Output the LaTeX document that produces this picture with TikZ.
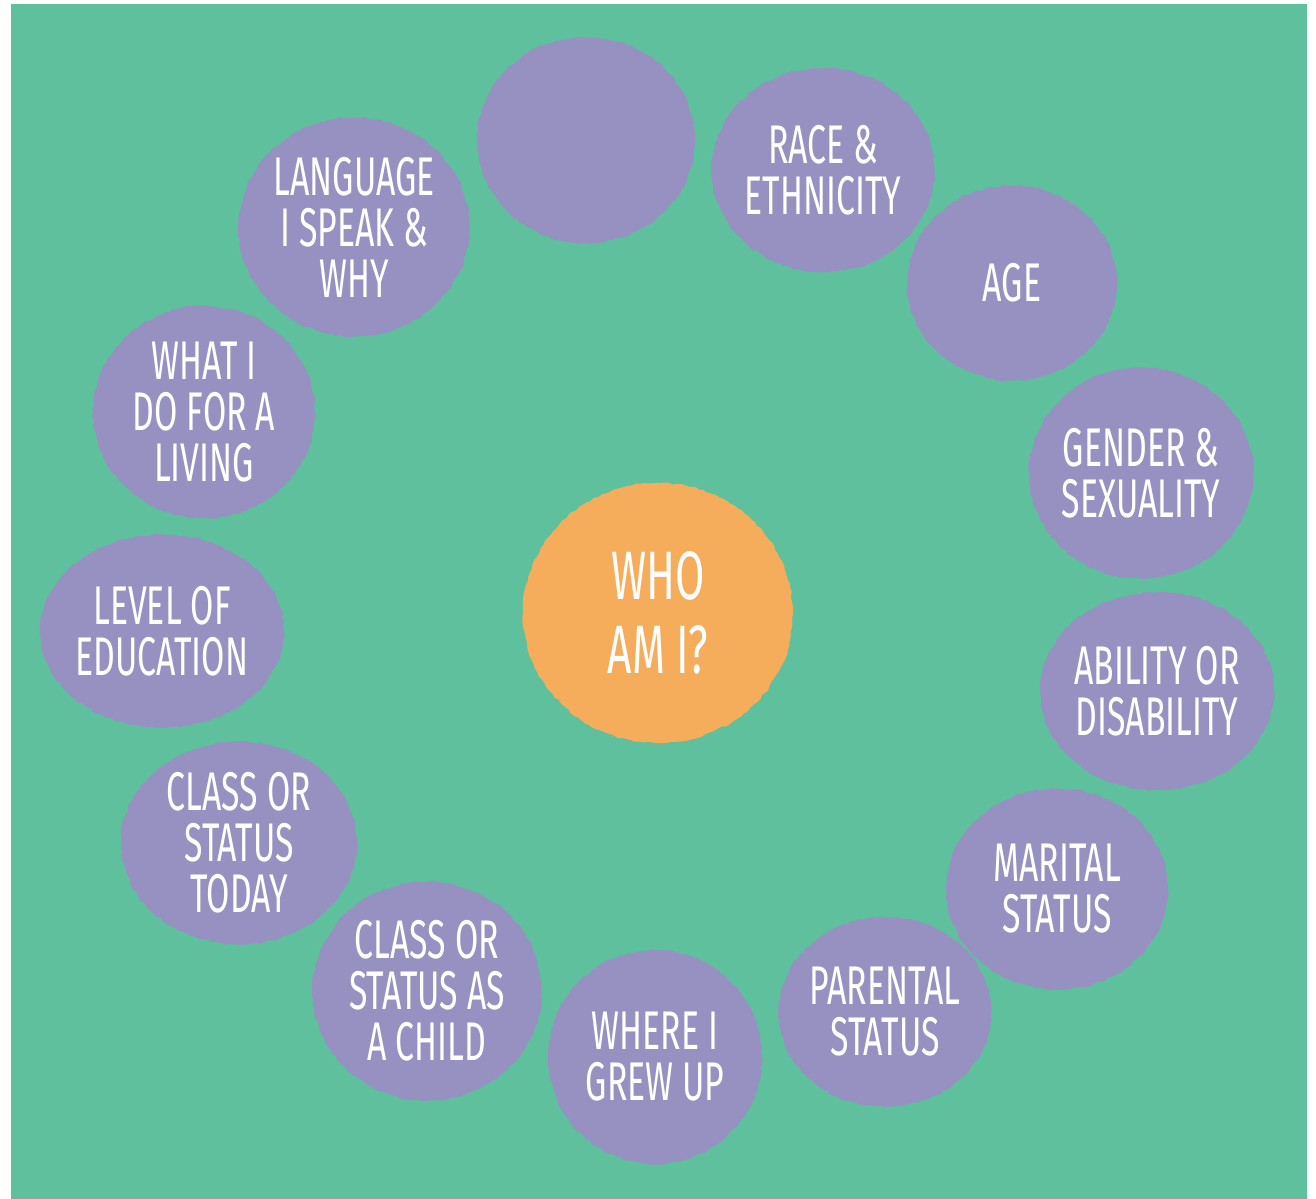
\documentclass[tikz,border=0pt]{standalone}
\usepackage{fontspec}
\setmainfont{Fira Sans}[FakeStretch=0.62]
\usepackage{tikz}
\usetikzlibrary{shapes.geometric}
\usetikzlibrary{decorations.pathmorphing}
\definecolor{bggreen}{HTML}{5FC09D}
\definecolor{blobpurple}{HTML}{9791C1}
\definecolor{coreorange}{HTML}{F5AD5B}
\begin{document}
\begin{tikzpicture}[x=0.02cm,y=-0.02cm,
  blob/.style={ellipse,fill=blobpurple,inner sep=0pt,text=white,align=center,
    font=\fontsize{31}{29}\selectfont,
    decorate,decoration={random steps,segment length=2.5pt,amplitude=0.6pt}},
  core/.style={blob,fill=coreorange,font=\fontsize{39}{42}\selectfont}]
\useasboundingbox (0,0) rectangle (1316,1199);
\fill[bggreen] (11,4) rectangle (1307,1199);
\node[blob,minimum width=4.36cm,minimum height=4.12cm] (blank) at (586,140) {};
\node[blob,minimum width=4.46cm,minimum height=4.08cm] (race) at (823,170) {RACE \&\\ETHNICITY};
\node[blob,minimum width=4.2cm,minimum height=3.9cm] (age) at (1012,283) {AGE};
\node[blob,minimum width=4.46cm,minimum height=4.22cm] (gender) at (1141,473) {GENDER \&\\SEXUALITY};
\node[blob,minimum width=4.4cm,minimum height=3.96cm] (ability) at (1157,691) {ABILITY OR\\DISABILITY};
\node[blob,minimum width=4.44cm,minimum height=4.02cm] (marital) at (1057,889) {MARITAL\\STATUS};
\node[blob,minimum width=4.14cm,minimum height=3.8cm] (parental) at (885,1012) {PARENTAL\\STATUS};
\node[blob,minimum width=4.28cm,minimum height=4.28cm] (grewup) at (655,1057) {WHERE I\\GREW UP};
\node[blob,minimum width=4.58cm,minimum height=4.38cm] (childclass) at (427,991) {CLASS OR\\STATUS AS\\A CHILD};
\node[blob,minimum width=4.72cm,minimum height=4.06cm] (todayclass) at (239,843) {CLASS OR\\STATUS\\TODAY};
\node[blob,minimum width=4.7cm,minimum height=3.86cm] (education) at (162,631) {LEVEL OF\\EDUCATION};
\node[blob,minimum width=4.44cm,minimum height=4.24cm] (living) at (204,412) {WHAT I\\DO FOR A\\LIVING};
\node[blob,minimum width=4.62cm,minimum height=4.38cm] (language) at (354,227) {LANGUAGE\\I SPEAK \&\\WHY};
\node[core,minimum width=5.4cm,minimum height=5.2cm] (whoami) at (658,613) {WHO\\AM I?};
\end{tikzpicture}
\end{document}
